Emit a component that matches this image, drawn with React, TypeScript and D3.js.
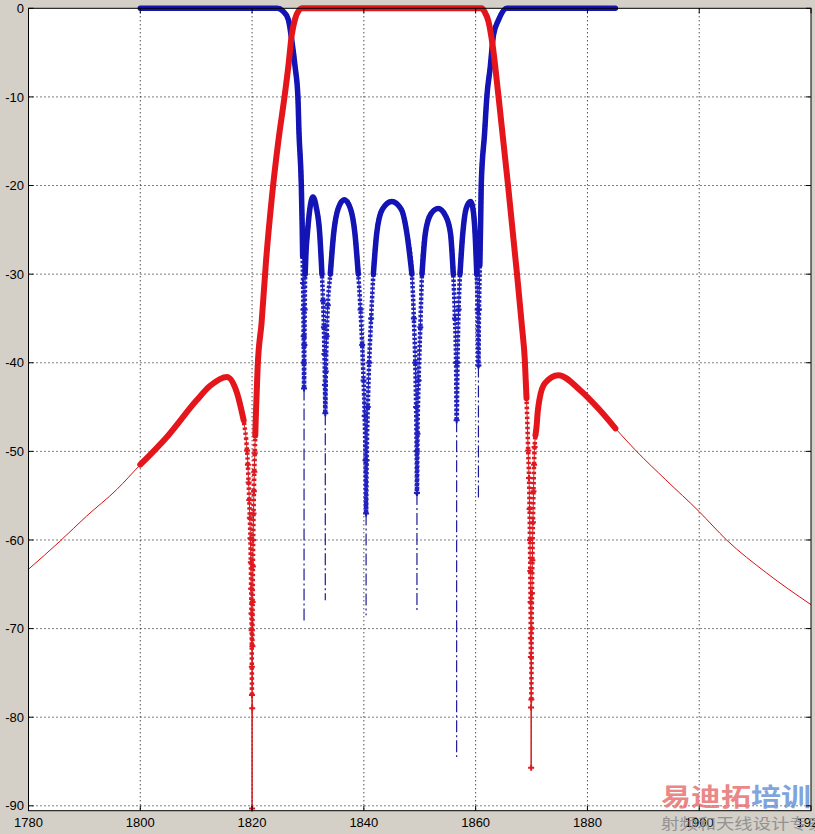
import React from 'react';
import * as d3 from 'd3';

const W = 815;
const H = 834;

const xTicks = [1780, 1800, 1820, 1840, 1860, 1880, 1900, 1920];
const yTicks = [0, -10, -20, -30, -40, -50, -60, -70, -80, -90];

// S21 (red) – frequency (MHz) and level (dB)
const s21Freq = [
  1780, 1785.7, 1790.4, 1795.8, 1800, 1805, 1810, 1812.5, 1815.5, 1817.3, 1818.5,
  1819.1, 1819.25, 1819.38, 1819.5, 1819.6, 1819.7, 1819.78, 1819.84, 1819.89, 1819.93,
  1819.96, 1819.98, 1820.0, 1820.03, 1820.06, 1820.1, 1820.15, 1820.2, 1820.26, 1820.33,
  1820.4, 1820.48, 1820.57, 1820.7, 1820.85, 1821.0, 1821.7, 1822.5, 1823.5, 1824.7,
  1825.8, 1826.5, 1827.1, 1827.7, 1828.3, 1829, 1845, 1861.1, 1861.6, 1862.3, 1863.0,
  1864.1, 1865.8, 1867.4, 1868.3, 1868.8, 1869.1, 1869.4, 1869.55, 1869.65, 1869.72,
  1869.78, 1869.83, 1869.87, 1869.89, 1869.91, 1869.93, 1869.97, 1870.02, 1870.08,
  1870.15, 1870.25, 1870.35, 1870.45, 1870.55, 1870.7, 1870.9, 1871.1, 1871.4, 1872.4,
  1874.8, 1878.7, 1882, 1885, 1888.8, 1894, 1900, 1904.9, 1912, 1920,
];
const s21Db = [
  -63.3, -60.1, -57.3, -54.3, -51.5, -48.2, -44.3, -42.6, -41.6, -43.4, -46.5,
  -49.9, -51.5, -53.5, -55.5, -57.5, -59.8, -62.5, -65.5, -68.3, -70.2,
  -74.3, -77.5, -90.3, -79, -72, -67, -63, -60, -57, -54.5,
  -52.3, -50.2, -48.2, -45.5, -43, -40.5, -35.5, -28.5, -21.6, -15,
  -10, -6.5, -3, -1.2, -0.3, 0, 0, 0, -0.4, -1.5, -4,
  -10, -20, -30, -36, -39.7, -44, -49.9, -53, -56.5, -60,
  -63.5, -67, -71.1, -73.2, -78.9, -85.7, -78, -70, -66,
  -62.3, -58, -54.5, -51.5, -49.5, -48.2, -47.2, -45.6, -44.2, -42.3,
  -41.4, -43.1, -45.2, -47.4, -50, -53.2, -56.8, -60, -63.7, -67.3,
];

// S11 (blue)
const s11Freq = [
  1800, 1824.5, 1825.5, 1826.5, 1827.1, 1827.7, 1828.2, 1828.4, 1828.8, 1828.95,
  1829.05, 1829.12, 1829.18, 1829.23, 1829.27, 1829.3, 1829.36, 1829.42, 1829.5, 1829.65,
  1829.9, 1830.3, 1830.9, 1831.5, 1832.1, 1832.5, 1832.7, 1832.85, 1832.95, 1833.05,
  1833.1, 1833.2, 1833.35, 1833.55, 1834.0, 1834.6, 1835.4, 1836.5, 1837.6, 1838.4,
  1839.0, 1839.4, 1839.7, 1839.95, 1840.15, 1840.3, 1840.4, 1840.5, 1840.7, 1840.95,
  1841.3, 1841.7, 1842.3, 1843.3, 1845.0, 1846.7, 1847.7, 1848.6, 1848.95, 1849.2,
  1849.35, 1849.45, 1849.5, 1849.6, 1849.8, 1850.1, 1850.4, 1851.0, 1852.0, 1853.3,
  1854.6, 1855.5, 1856.0, 1856.3, 1856.5, 1856.6, 1856.75, 1856.95, 1857.2, 1857.7,
  1858.3, 1859.1, 1859.6, 1859.9, 1860.2, 1860.35, 1860.5, 1860.6, 1860.75, 1860.9,
  1861.0, 1861.6, 1862.0, 1862.6, 1863.2, 1864.1, 1865.6, 1885,
];
const s11Db = [
  0, 0, -0.3, -1.3, -3.6, -6.6, -10, -14.1, -19.7, -24,
  -28, -31, -34, -37, -40, -42.9, -38, -34, -30, -27.5,
  -25.4, -22.8, -21.3, -22.5, -25.4, -30, -33, -36, -39, -42.5,
  -45.7, -41, -37, -33.5, -30, -25.4, -22.6, -21.6, -22.6, -25.4,
  -30, -34, -38, -42, -46, -51, -57, -51, -45, -40,
  -35, -30, -25.4, -22.7, -21.8, -22.7, -25.4, -30, -35, -40,
  -45, -50, -54.7, -48, -42, -36, -30, -25.4, -23.2, -22.6,
  -23.4, -25.4, -30, -35, -40, -46.5, -40, -34, -30, -25.4,
  -22.6, -21.8, -23, -25.4, -30, -34, -40.3, -34, -29, -24,
  -19.9, -14.1, -10, -6.7, -3, -1.3, 0, 0,
];

// deep dash-dot tails of the S11 reflection zeros
const s11NotchFreq = [1829.3, 1833.1, 1840.4, 1849.5, 1856.6, 1860.5];
const s11NotchTop = [-42.9, -45.7, -57, -54.7, -46.5, -40.3];
const s11NotchDeep = [-69.2, -66.8, -68.5, -67.9, -84.5, -55.5];

type P = { f: number; v: number };

export default function App() {
  const x = d3.scaleLinear().domain([1780, 1920]).range([28.5, 811]);
  const y = d3.scaleLinear().domain([0, -90.55]).range([8.3, 810.7]);

  const s21: P[] = s21Freq.map((f, i) => ({ f, v: s21Db[i] }));
  const s11: P[] = s11Freq.map((f, i) => ({ f, v: s11Db[i] }));

  const mk = () =>
    d3
      .line<P>()
      .x((d) => x(d.f))
      .y((d) => y(d.v))
      .curve(d3.curveMonotoneX);

  const line = mk();

  const s21Marked = s21.filter((d) => d.f >= 1800 && d.f <= 1885);
  const redSolid = (d: P) => d.v > -49 || d.f < 1812;
  const redThick = mk().defined(redSolid)(s21Marked);
  const redBeads = mk().defined((d) => d.v > -78.5)(s21Marked);
  const redMarkers = s21Marked.filter((d) => !redSolid(d));

  const blueThick = mk().defined((d) => d.v > -30.5)(s11);
  const blueBeads = mk()(s11);
  const blueMarkers = s11.filter((d) => d.v <= -30.5);

  const x0 = x(1780);
  const x1 = x(1920);
  const yTop = y(0);
  const yBot = y(-90.55);

  const cross = 'M-3,0H3M0,-3V3';

  return (
    <svg
      width={W}
      height={H}
      style={{ position: 'absolute', left: 0, top: 0, display: 'block' }}
      fontFamily="'Liberation Sans', Arial, sans-serif"
    >
      <rect x={0} y={0} width={W} height={H} fill="#d4d0c8" />
      <rect x={x0} y={yTop} width={x1 - x0} height={yBot - yTop} fill="#ffffff" />

      {/* grid */}
      {xTicks.slice(1, -1).map((t) => (
        <line key={'gx' + t} x1={x(t)} x2={x(t)} y1={yTop} y2={yBot} stroke="#000" strokeWidth={1} strokeDasharray="1,3" />
      ))}
      {yTicks.slice(1).map((t) => (
        <line key={'gy' + t} x1={x0} x2={x1} y1={y(t)} y2={y(t)} stroke="#000" strokeWidth={1} strokeDasharray="1,3" />
      ))}

      {/* watermark */}
      <g opacity={0.85}>
        <text
          x={661}
          y={806}
          fontSize={25}
          fontWeight="bold"
          fontFamily="'Noto Sans CJK SC', sans-serif"
          textLength={150}
          lengthAdjust="spacingAndGlyphs"
        >
          <tspan fill="#e77373">易迪拓</tspan>
          <tspan fill="#6b95d6">培训</tspan>
        </text>
      </g>

      {/* red thin line (full range) */}
      <path d={line(s21) || ''} fill="none" stroke="#d41010" strokeWidth={1} />

      {/* blue S11 */}
      <path d={blueBeads || ''} fill="none" stroke="#1a1aa8" strokeWidth={1} />
      <path d={blueBeads || ''} fill="none" stroke="#2222c0" strokeWidth={4.5} strokeDasharray="2.5,1.8" />
      <path d={blueThick || ''} fill="none" stroke="#1414b4" strokeWidth={5.5} strokeLinejoin="round" strokeLinecap="round" />
      {blueMarkers.map((d, i) => (
        <path key={'bm' + i} d={cross} transform={`translate(${x(d.f)},${y(d.v)})`} stroke="#2020c0" strokeWidth={2} fill="none" />
      ))}
      {s11NotchFreq.map((f, i) => (
        <line
          key={'nd' + i}
          x1={x(f)}
          x2={x(f)}
          y1={y(s11NotchTop[i])}
          y2={y(s11NotchDeep[i])}
          stroke="#1a1a9a"
          strokeWidth={1.2}
          strokeDasharray="12,3,2,3"
        />
      ))}

      {/* red thick S21 */}
      <path d={redBeads || ''} fill="none" stroke="#dd1a22" strokeWidth={4.5} strokeDasharray="2.5,2.5" />
      <path d={redThick || ''} fill="none" stroke="#e4161c" strokeWidth={6} strokeLinejoin="round" strokeLinecap="round" />
      {redMarkers.map((d, i) => (
        <path key={'rm' + i} d={cross} transform={`translate(${x(d.f)},${y(d.v)})`} stroke="#dd1a22" strokeWidth={2} fill="none" />
      ))}

      {/* axes box */}
      <rect x={x0} y={yTop} width={x1 - x0} height={yBot - yTop} fill="none" stroke="#000" strokeWidth={1} />

      {/* ticks */}
      {xTicks.map((t) => (
        <g key={'xt' + t}>
          <line x1={x(t)} x2={x(t)} y1={yBot} y2={yBot - 5} stroke="#000" />
          <line x1={x(t)} x2={x(t)} y1={yTop} y2={yTop + 5} stroke="#000" />
          <text x={x(t)} y={827} fontSize={13} textAnchor="middle" fill="#000">
            {t}
          </text>
        </g>
      ))}
      {yTicks.map((t) => (
        <g key={'yt' + t}>
          <line x1={x0} x2={x0 + 5} y1={y(t)} y2={y(t)} stroke="#000" />
          <line x1={x1} x2={x1 - 5} y1={y(t)} y2={y(t)} stroke="#000" />
          <text x={24} y={y(t) + 4.6} fontSize={13} textAnchor="end" fill="#000">
            {t}
          </text>
        </g>
      ))}

      {/* watermark subtitle */}
      <text
        x={661}
        y={829}
        fontSize={15}
        fontFamily="'Noto Sans CJK SC', sans-serif"
        fill="#8c8c8c"
        opacity={0.9}
        textLength={165}
        lengthAdjust="spacingAndGlyphs"
      >
        射频和天线设计专家
      </text>
    </svg>
  );
}
